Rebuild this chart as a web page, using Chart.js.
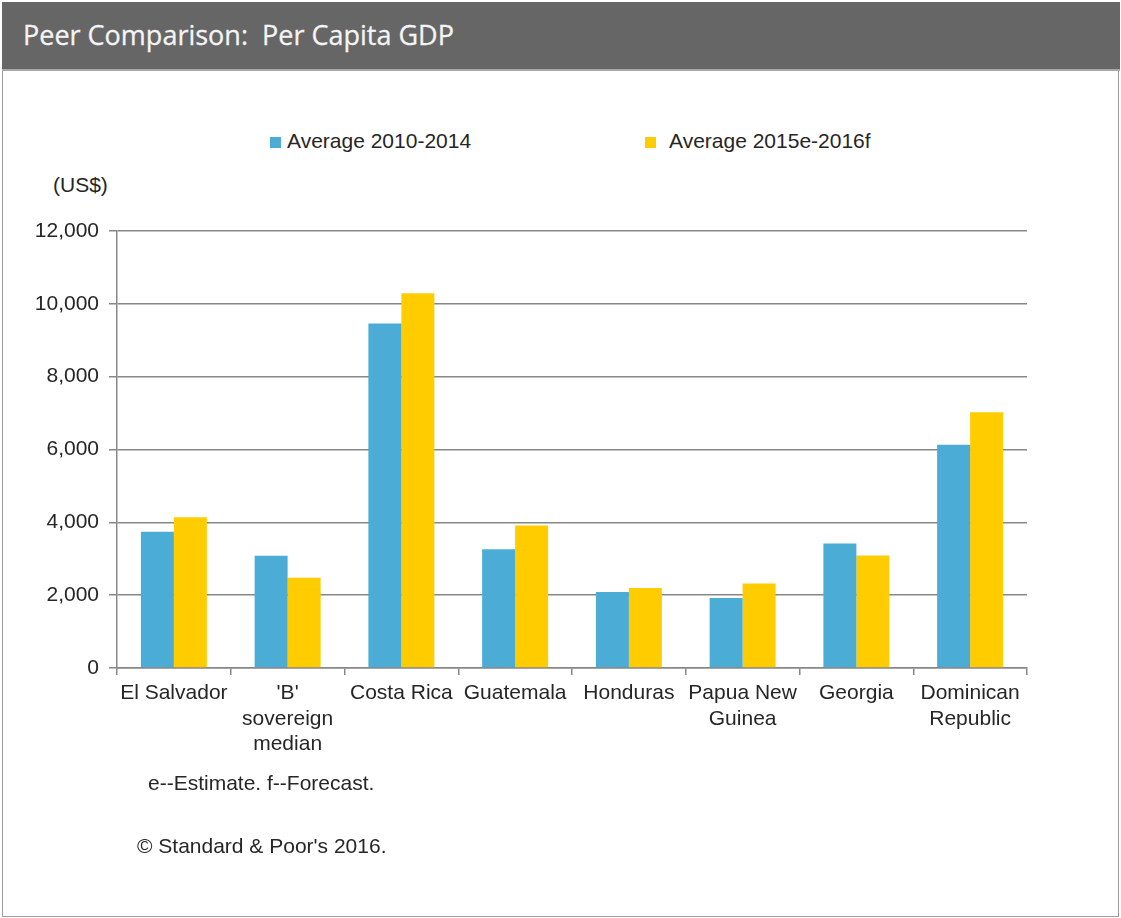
<!DOCTYPE html>
<html>
<head>
<meta charset="utf-8">
<script src="https://cdn.jsdelivr.net/npm/chart.js@4"></script>
<style>
  body { margin: 0; background: #fff; font-family: "Liberation Sans", Arial, sans-serif; color: #262626; }
  .frame { position: absolute; left: 2px; top: 2px; width: 1115px; height: 913px; border: 1.5px solid #9c9c9c; }
  .header { position: absolute; left: 2px; top: 2px; width: 1118px; height: 67px; background: #666; border-bottom: 2px solid #a8a8a8; }
  .header span { position: absolute; left: 21px; top: 17px; font-family: "Open Sans", sans-serif; font-size: 27px; line-height: 31px; color: #f4f4f4; white-space: pre; -webkit-text-stroke: 0.3px #f4f4f4; }
  #chart { position: absolute; left: 0; top: 0; }
  .legend-item { position: absolute; font-size: 21px; line-height: 24px; white-space: nowrap; }
  .legend-item i { position: absolute; width: 11px; height: 11px; top: 7px; }
  .note { position: absolute; font-size: 21px; line-height: 24px; white-space: nowrap; }
</style>
</head>
<body>
<div class="frame"></div>
<div class="header"><span>Peer Comparison:  Per Capita GDP</span></div>
<div id="legend"></div>
<div class="note" style="left:53px; top:173px;">(US$)</div>
<canvas id="chart" width="1121" height="918"></canvas>
<div class="note" style="left:148px; top:771px;">e--Estimate. f--Forecast.</div>
<div class="note" style="left:137px; top:834px;">© Standard &amp; Poor's 2016.</div>

<script>
// Per capita GDP, US$
const countries = [
  "El Salvador",
  ["'B'", "sovereign", "median"],
  "Costa Rica",
  "Guatemala",
  "Honduras",
  ["Papua New", "Guinea"],
  "Georgia",
  ["Dominican", "Republic"]
];
const avg2010_2014 = [3740, 3080, 9460, 3260, 2090, 1920, 3420, 6130];
const avg2015_2016 = [4140, 2480, 10290, 3910, 2200, 2320, 3090, 7020];
const yTicks = [0, 2000, 4000, 6000, 8000, 10000, 12000];

const seriesNames = ["Average 2010-2014", "Average 2015e-2016f"];
const seriesColors = ["#4bacd6", "#ffcc00"];

const axisGrey = "#878787";
const labelFont = { family: "'Liberation Sans', Arial, sans-serif", size: 21, lineHeight: 1.2 };

const chart = new Chart(document.getElementById("chart"), {
  type: "bar",
  data: {
    labels: countries,
    datasets: [
      { label: seriesNames[0], data: avg2010_2014, backgroundColor: seriesColors[0] },
      { label: seriesNames[1], data: avg2015_2016, backgroundColor: seriesColors[1] }
    ]
  },
  options: {
    responsive: false,
    devicePixelRatio: 1,
    animation: false,
    layout: { padding: { top: 231, right: 94, bottom: 0, left: 0 } },
    datasets: { bar: { categoryPercentage: 0.58, barPercentage: 1 } },
    plugins: { legend: { display: false }, tooltip: { enabled: false } },
    scales: {
      x: {
        afterFit: s => { s.height = 250; },
        grid: { offset: true, drawOnChartArea: false, tickLength: 7, color: axisGrey, lineWidth: 1.5 },
        border: { color: axisGrey, width: 1.5 },
        ticks: { font: labelFont, color: "#262626", padding: 6, maxRotation: 0, autoSkip: false }
      },
      y: {
        min: yTicks[0],
        max: yTicks[yTicks.length - 1],
        afterFit: s => { s.width = 117; },
        afterBuildTicks: s => { s.ticks = yTicks.map(v => ({ value: v })); },
        grid: { tickLength: 8, color: axisGrey, lineWidth: 1.5 },
        border: { color: axisGrey, width: 1.5 },
        ticks: {
          font: labelFont,
          color: "#262626",
          padding: 10,
          callback: v => v.toLocaleString("en-US")
        }
      }
    }
  }
});

// Legend built from the datasets
const legendPos = [{ box: 270, text: 287 }, { box: 645, text: 669 }];
const legend = document.getElementById("legend");
chart.data.datasets.forEach((ds, i) => {
  const box = document.createElement("div");
  box.className = "legend-item";
  box.style.left = legendPos[i].box + "px";
  box.style.top = "130px";
  box.innerHTML = `<i style="left:0;background:${ds.backgroundColor}"></i>`;
  legend.appendChild(box);

  const txt = document.createElement("div");
  txt.className = "legend-item";
  txt.style.left = legendPos[i].text + "px";
  txt.style.top = "129px";
  txt.textContent = ds.label;
  legend.appendChild(txt);
});
</script>
</body>
</html>
